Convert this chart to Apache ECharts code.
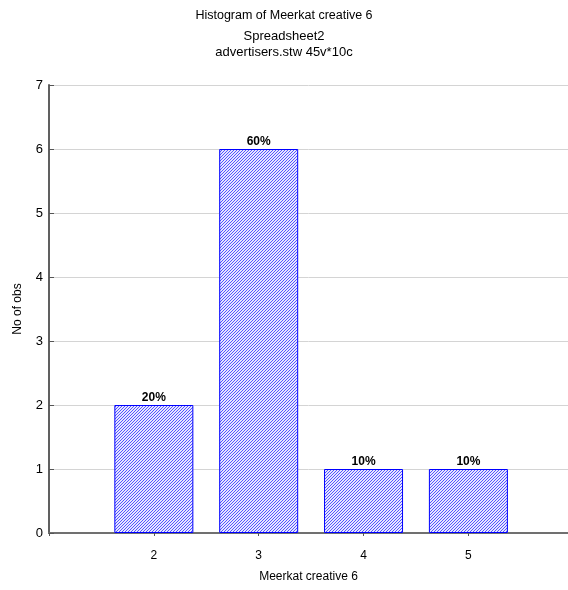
<!DOCTYPE html>
<html><head><meta charset="utf-8">
<script src="https://cdn.jsdelivr.net/npm/echarts@6/dist/echarts.min.js"></script>
<style>html,body{margin:0;padding:0;background:#fff}#c{width:568px;height:590px}</style>
</head><body><div id="c"></div>
<script>
const categories = [2, 3, 4, 5];
const counts = [2, 6, 1, 1];
const yTicks = [0, 1, 2, 3, 4, 5, 6, 7];
const titleLines = ["Histogram of Meerkat creative 6", "Spreadsheet2", "advertisers.stw 45v*10c"];
const xName = "Meerkat creative 6";
const yName = "No of obs";

const FONT = "'Liberation Sans Narrow', 'Liberation Sans', Arial, sans-serif";
const total = counts.reduce((a, b) => a + b, 0);

// hatch pattern, pixel based (diagonal "/" lines)
const P = 3;
const pc = document.createElement('canvas');
pc.width = P; pc.height = P;
const g = pc.getContext('2d');
g.fillStyle = '#e6e6ff'; g.fillRect(0, 0, P, P);
g.fillStyle = '#5555ff';
for (let i = 0; i < P; i++) { g.fillRect(P - 1 - i, i, 1, 1); }

const chart = echarts.init(document.getElementById('c'), null, {renderer: 'canvas'});
const tStyle = {fontFamily: FONT, fontSize: 13, fontWeight: 'normal', color: '#000'};
chart.setOption({
  animation: false,
  backgroundColor: '#fff',
  title: [
    {text: titleLines[0], left: 'center', top: 4, textStyle: Object.assign({}, tStyle, {fontSize: 12.5})},
    {text: titleLines[1], left: 'center', top: 25, textStyle: tStyle},
    {text: titleLines[2], left: 'center', top: 41, textStyle: tStyle}
  ],
  grid: {left: 49, right: 0, top: 85, bottom: 57, containLabel: false},
  xAxis: [{
    type: 'value', min: 1, max: 5.95, interval: 1, position: 'bottom',
    name: xName, nameLocation: 'middle', nameGap: 38,
    nameTextStyle: {fontFamily: FONT, fontSize: 12, color: '#000'},
    axisLine: {show: true, onZero: false, lineStyle: {color: '#000', width: 1}},
    axisTick: {show: true, inside: true, length: 3, lineStyle: {color: '#333'}},
    axisLabel: {showMinLabel: false, showMaxLabel: false, fontFamily: FONT, fontSize: 12, color: '#000', margin: 17},
    splitLine: {show: false}
  }, {
    type: 'value', min: 1, max: 5.95, interval: 1, position: 'top',
    axisLine: {show: true, lineStyle: {color: '#707070', width: 2}},
    axisTick: {show: true, inside: true, length: 3, lineStyle: {color: '#555'}},
    axisLabel: {show: false},
    splitLine: {show: false}
  }],
  yAxis: {
    type: 'value', min: 0, max: 7, interval: 1,
    name: yName, nameLocation: 'middle', nameGap: 25,
    nameTextStyle: {fontFamily: FONT, fontSize: 12, color: '#000'},
    axisLine: {show: true, lineStyle: {color: '#606060', width: 2}},
    axisTick: {show: true, inside: true, length: 5, lineStyle: {color: '#555'}},
    axisLabel: {fontFamily: FONT, fontSize: 13, color: '#000', margin: 6,
      formatter: v => yTicks.includes(v) ? String(v) : ''},
    splitLine: {show: true, lineStyle: {color: '#d4d4d4', width: 1}}
  },
  series: [{
    type: 'bar',
    data: categories.map((c, i) => [c, counts[i]]),
    barWidth: 79,
    itemStyle: {color: {image: pc, repeat: 'repeat'}, borderColor: '#0000ff', borderWidth: 1},
    label: {show: true, position: 'top', distance: 1, fontFamily: FONT, fontSize: 12, fontWeight: 'bold', color: '#000',
      formatter: p => Math.round(p.value[1] / total * 100) + '%'}
  }]
});
</script></body></html>
